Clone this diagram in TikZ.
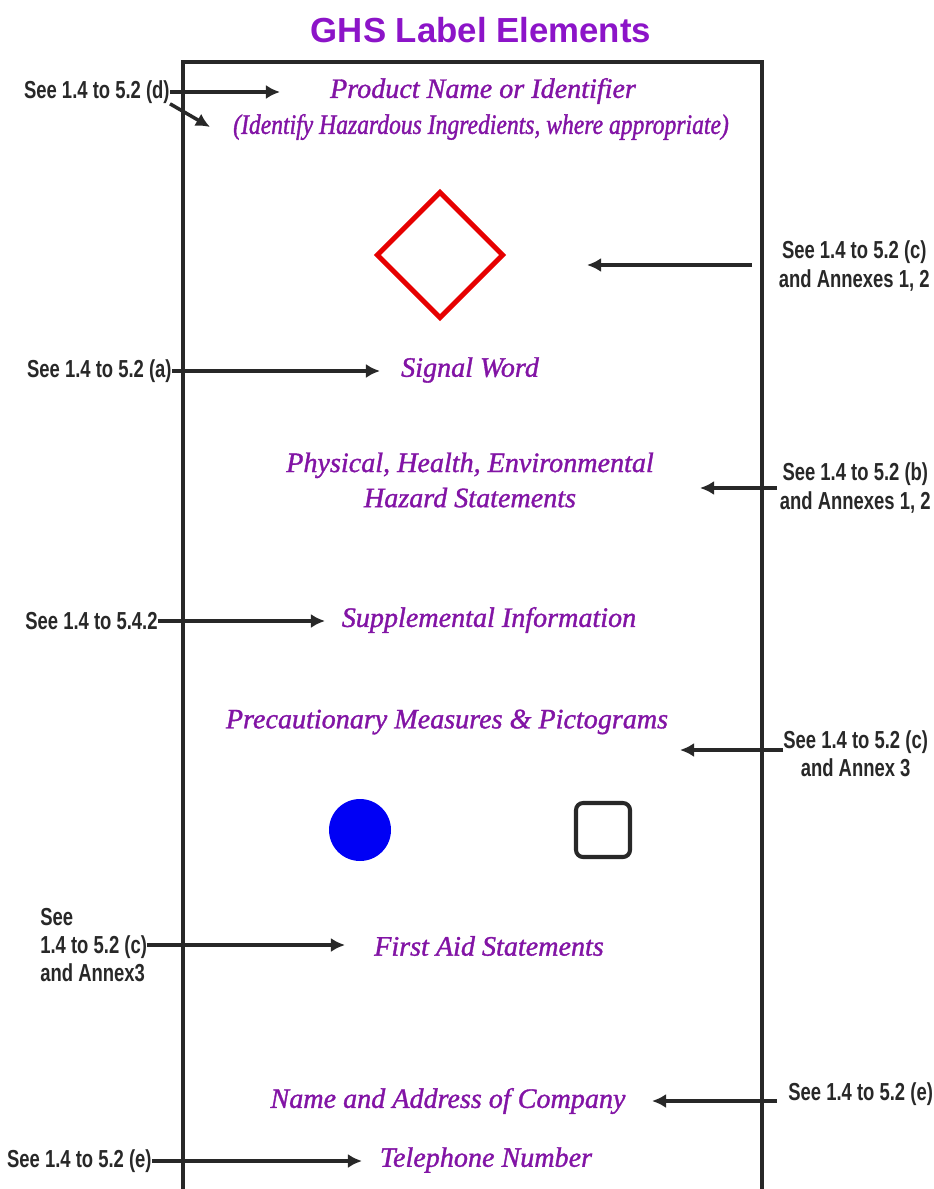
\documentclass[tikz,border=0pt]{standalone}
\usepackage{fontspec}
\newfontfamily\headfont{Liberation Sans}
\newfontfamily\reffont[FakeStretch=0.75]{Liberation Sans}
\newfontfamily\itemfont[FakeBold=1.2]{Liberation Serif}
\newfontfamily\narrowserif[FakeStretch=0.84,FakeBold=1.2]{Liberation Serif}
\usetikzlibrary{positioning,shapes.geometric,arrows.meta}
\definecolor{ghsviolet}{RGB}{140,20,200}
\definecolor{itemviolet}{RGB}{130,20,165}
\definecolor{pictred}{RGB}{230,0,0}
\definecolor{pictblue}{RGB}{0,0,245}
\definecolor{inkgray}{RGB}{40,40,40}

\begin{document}
\begin{tikzpicture}[x=0.02cm,y=-0.02cm,
		item/.style={text=itemviolet, font=\itemfont\itshape\fontsize{16}{20}\selectfont, inner sep=0pt, align=center},
		ref/.style={text=inkgray, font=\reffont\bfseries\fontsize{14}{16}\selectfont, inner sep=0pt},
		pointer/.style={-{Latex[length=8pt,width=8pt]}, line width=2pt, inkgray}]
	\useasboundingbox (0,0) rectangle (933,1189);
	% label outline
	\draw[line width=2.6pt, inkgray] (183,1189) -- (183,62) -- (762,62) -- (762,1189);
	\node[font=\headfont\bfseries\fontsize{19.8}{24}\selectfont, text=ghsviolet] (title) at (481,30) {GHS Label Elements};
	% label elements
	\node[item] (prodname) at (483,91) {Product Name or Identifier};
	\node[item, font=\narrowserif\itshape\fontsize{16}{20}\selectfont] (ingred) at (481,127) {(Identify Hazardous Ingredients, where appropriate)};
	\node[diamond, draw=pictred, line width=2.8pt, minimum width=2.55cm, minimum height=2.55cm, inner sep=0pt] (hazdiamond) at (440,255) {};
	\node[item] (signal) at (470,370) {Signal Word};
	\node[item] (hazstat) at (470,480) {Physical, Health, Environmental\\Hazard Statements};
	\node[item] (suppl) at (489,620) {Supplemental Information};
	\node[item] (precaut) at (447,722) {Precautionary Measures \& Pictograms};
	\node[circle, fill=pictblue, minimum size=1.24cm, inner sep=0pt] (bluedot) at (360,830) {};
	\node[draw=inkgray, line width=2.3pt, rounded corners=4pt, minimum size=1.08cm, inner sep=0pt] (frame) at (603,830) {};
	\node[item] (firstaid) at (489,946) {First Aid Statements};
	\node[item] (company) at (448,1101) {Name and Address of Company};
	\node[item] (phone) at (486,1160) {Telephone Number};
	% references
	\node[ref, anchor=east] (refD) at (170,92) {See 1.4 to 5.2 (d)};
	\node[ref, align=center, anchor=east] (refC) at (930,266) {See 1.4 to 5.2 (c)\\and Annexes 1, 2};
	\node[ref, anchor=east] (refA) at (172,371) {See 1.4 to 5.2 (a)};
	\node[ref, align=center, anchor=east] (refB) at (931,488) {See 1.4 to 5.2 (b)\\and Annexes 1, 2};
	\node[ref, anchor=east] (refS) at (158,621) {See 1.4 to 5.4.2};
	\node[ref, align=center, anchor=west] (refP) at (783,754) {See 1.4 to 5.2 (c)\\and Annex 3};
	\node[ref, align=left, anchor=west] (refF) at (40,945) {See\\1.4 to 5.2 (c)\\and Annex3};
	\node[ref, anchor=west] (refE) at (788,1094) {See 1.4 to 5.2 (e)};
	\node[ref, anchor=east] (refT) at (152,1161) {See 1.4 to 5.2 (e)};
	% arrow ends
	\coordinate (tipD) at (280,92);
	\coordinate (tipI) at (210,127);
	\coordinate (tailC) at (752,265);
	\coordinate (tipC) at (587,265);
	\coordinate (tipA) at (380,371);
	\coordinate (tailB) at (777,488);
	\coordinate (tipB) at (700,488);
	\coordinate (tipS) at (325,621);
	\coordinate (tipP) at (680,750);
	\coordinate (tipF) at (345,945);
	\coordinate (tailE) at (777,1101);
	\coordinate (tipE) at (652,1101);
	\coordinate (tipT) at (362,1161);
	\draw[pointer] (refD.east) -- (refD.east -| tipD);
	\draw[pointer] (refD.south east) -- (tipI);
	\draw[pointer] (tailC) -- (tipC);
	\draw[pointer] (refA.east) -- (refA.east -| tipA);
	\draw[pointer] (tailB) -- (tipB);
	\draw[pointer] (refS.east) -- (refS.east -| tipS);
	\draw[pointer] (refP.west |- tipP) -- (tipP);
	\draw[pointer] (refF.east) -- (refF.east -| tipF);
	\draw[pointer] (tailE) -- (tipE);
	\draw[pointer] (refT.east) -- (refT.east -| tipT);
\end{tikzpicture}
\end{document}
